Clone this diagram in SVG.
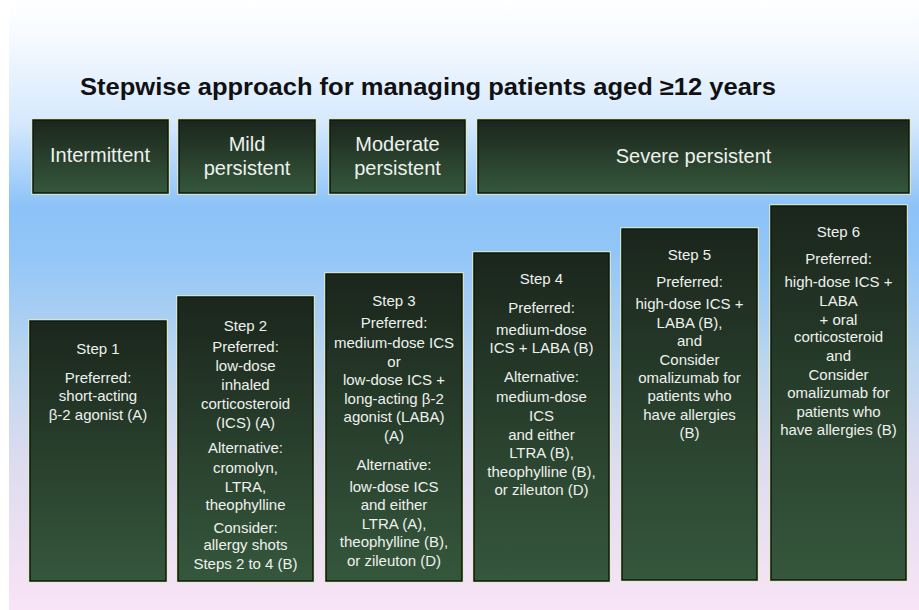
<svg xmlns="http://www.w3.org/2000/svg" width="919" height="610" viewBox="0 0 919 610">
<defs>
<linearGradient id="bg" x1="0" y1="0" x2="0" y2="1">
<stop offset="0" stop-color="#ffffff"/>
<stop offset="0.06" stop-color="#f6faff"/>
<stop offset="0.2" stop-color="#d6e9fd"/>
<stop offset="0.34" stop-color="#8cc2f8"/>
<stop offset="0.42" stop-color="#93c6f7"/>
<stop offset="0.6" stop-color="#bcd6ef"/>
<stop offset="0.76" stop-color="#dedcef"/>
<stop offset="1" stop-color="#f8e4f6"/>
</linearGradient>
<linearGradient id="box" x1="0" y1="0" x2="0" y2="1">
<stop offset="0" stop-color="#1b261c"/>
<stop offset="1" stop-color="#35573c"/>
</linearGradient>
<style>
.b{fill:url(#box);stroke:#0e180f;stroke-width:1.5}
.rim{fill:none;stroke:#e4edb8;stroke-width:1.5}
.t{font-family:"Liberation Sans",Arial,sans-serif;font-size:15px;fill:#eef1ee;text-anchor:middle}
.h{font-family:"Liberation Sans",Arial,sans-serif;font-size:20px;fill:#eef1ee;text-anchor:middle}
.title{font-family:"Liberation Sans",Arial,sans-serif;font-size:23px;font-weight:bold;fill:#111}
</style>
</defs>
<rect x="0" y="0" width="919" height="610" fill="#ffffff"/>
<rect x="9" y="0" width="910" height="610" fill="url(#bg)"/>
<text class="title" x="80" y="95" textLength="696" lengthAdjust="spacingAndGlyphs">Stepwise approach for managing patients aged ≥12 years</text>

<g id="h-intermittent">
<rect class="rim" x="32" y="119" width="137" height="75"/>
<rect class="b" x="33" y="120" width="135" height="73"/>
<text class="h" x="100" y="162">Intermittent</text>
</g>
<g id="h-mild">
<rect class="rim" x="178" y="119" width="138" height="75"/>
<rect class="b" x="179" y="120" width="136" height="73"/>
<text class="h" x="247" y="150.5">Mild</text>
<text class="h" x="247" y="175">persistent</text>
</g>
<g id="h-moderate">
<rect class="rim" x="329" y="119" width="137" height="75"/>
<rect class="b" x="330" y="120" width="135" height="73"/>
<text class="h" x="397.5" y="150.5">Moderate</text>
<text class="h" x="397.5" y="175">persistent</text>
</g>
<g id="h-severe">
<rect class="rim" x="477" y="119" width="433" height="75"/>
<rect class="b" x="478" y="120" width="431" height="73"/>
<text class="h" x="693.5" y="162.5">Severe persistent</text>
</g>

<g id="step1">
<rect class="rim" x="29" y="320" width="138" height="262"/>
<rect class="b" x="30" y="321" width="136" height="260"/>
<text class="t" x="98" y="353.5">Step 1</text>
<text class="t" x="98" y="382.5">Preferred:</text>
<text class="t" x="98" y="401">short-acting</text>
<text class="t" x="98" y="419.5">β-2 agonist (A)</text>
</g>
<g id="step2">
<rect class="rim" x="177" y="296" width="137" height="286"/>
<rect class="b" x="178" y="297" width="135" height="284"/>
<text class="t" x="245.5" y="330.5">Step 2</text>
<text class="t" x="245.5" y="351.5">Preferred:</text>
<text class="t" x="245.5" y="371">low-dose</text>
<text class="t" x="245.5" y="390">inhaled</text>
<text class="t" x="245.5" y="408.5">corticosteroid</text>
<text class="t" x="245.5" y="427.5">(ICS) (A)</text>
<text class="t" x="245.5" y="452.5">Alternative:</text>
<text class="t" x="245.5" y="473">cromolyn,</text>
<text class="t" x="245.5" y="491.5">LTRA,</text>
<text class="t" x="245.5" y="509.5">theophylline</text>
<text class="t" x="245.5" y="532.5">Consider:</text>
<text class="t" x="245.5" y="549.5">allergy shots</text>
<text class="t" x="245.5" y="568.5">Steps 2 to 4 (B)</text>
</g>
<g id="step3">
<rect class="rim" x="325" y="273" width="138" height="309"/>
<rect class="b" x="326" y="274" width="136" height="307"/>
<text class="t" x="394" y="305.5">Step 3</text>
<text class="t" x="394" y="328">Preferred:</text>
<text class="t" x="394" y="348">medium-dose ICS</text>
<text class="t" x="394" y="366.5">or</text>
<text class="t" x="394" y="385">low-dose ICS +</text>
<text class="t" x="394" y="403.5">long-acting β-2</text>
<text class="t" x="394" y="422">agonist (LABA)</text>
<text class="t" x="394" y="440.5">(A)</text>
<text class="t" x="394" y="469.5">Alternative:</text>
<text class="t" x="394" y="491.5">low-dose ICS</text>
<text class="t" x="394" y="509.5">and either</text>
<text class="t" x="394" y="529">LTRA (A),</text>
<text class="t" x="394" y="547">theophylline (B),</text>
<text class="t" x="394" y="565.5">or zileuton (D)</text>
</g>
<g id="step4">
<rect class="rim" x="473" y="252" width="137" height="330"/>
<rect class="b" x="474" y="253" width="135" height="328"/>
<text class="t" x="541.5" y="284">Step 4</text>
<text class="t" x="541.5" y="313">Preferred:</text>
<text class="t" x="541.5" y="335">medium-dose</text>
<text class="t" x="541.5" y="353">ICS + LABA (B)</text>
<text class="t" x="541.5" y="382">Alternative:</text>
<text class="t" x="541.5" y="402">medium-dose</text>
<text class="t" x="541.5" y="421">ICS</text>
<text class="t" x="541.5" y="439.5">and either</text>
<text class="t" x="541.5" y="458">LTRA (B),</text>
<text class="t" x="541.5" y="476.5">theophylline (B),</text>
<text class="t" x="541.5" y="495">or zileuton (D)</text>
</g>
<g id="step5">
<rect class="rim" x="621" y="228" width="137" height="353"/>
<rect class="b" x="622" y="229" width="135" height="351"/>
<text class="t" x="689.5" y="259.5">Step 5</text>
<text class="t" x="689.5" y="287">Preferred:</text>
<text class="t" x="689.5" y="309">high-dose ICS +</text>
<text class="t" x="689.5" y="328">LABA (B),</text>
<text class="t" x="689.5" y="345.5">and</text>
<text class="t" x="689.5" y="364.5">Consider</text>
<text class="t" x="689.5" y="383">omalizumab for</text>
<text class="t" x="689.5" y="401">patients who</text>
<text class="t" x="689.5" y="419.5">have allergies</text>
<text class="t" x="689.5" y="438">(B)</text>
</g>
<g id="step6">
<rect class="rim" x="770" y="205" width="137" height="376"/>
<rect class="b" x="771" y="206" width="135" height="374"/>
<text class="t" x="838.5" y="236.5">Step 6</text>
<text class="t" x="838.5" y="264">Preferred:</text>
<text class="t" x="838.5" y="287">high-dose ICS +</text>
<text class="t" x="838.5" y="305.5">LABA</text>
<text class="t" x="838.5" y="324.5">+ oral</text>
<text class="t" x="838.5" y="342">corticosteroid</text>
<text class="t" x="838.5" y="361">and</text>
<text class="t" x="838.5" y="379.5">Consider</text>
<text class="t" x="838.5" y="398">omalizumab for</text>
<text class="t" x="838.5" y="416.5">patients who</text>
<text class="t" x="838.5" y="435">have allergies (B)</text>
</g>
<g id="connectors"/>
</svg>
